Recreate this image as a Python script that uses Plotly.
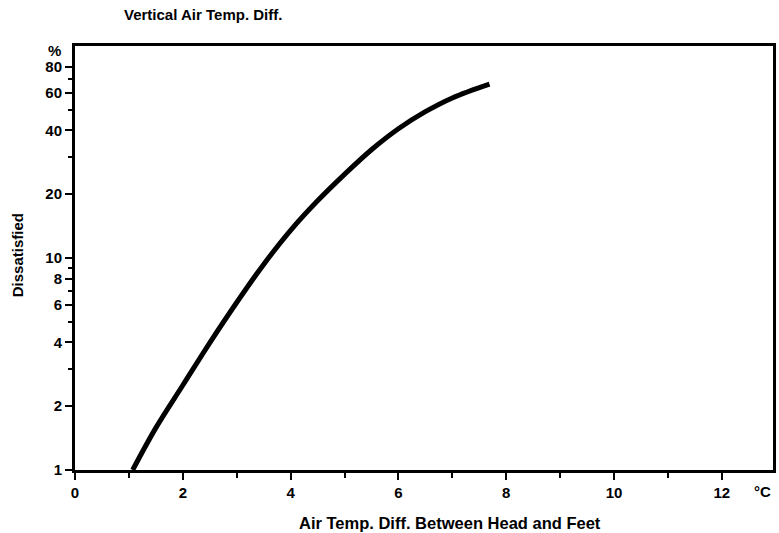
import plotly.graph_objects as go

# Temperature difference between head and feet (°C) vs. percentage dissatisfied
temp_diff = [1.07, 1.5, 2.0, 2.5, 3.0, 3.5, 4.0, 4.5, 5.0, 5.5, 6.0, 6.5, 7.0, 7.69]
dissatisfied = [1.0, 1.58, 2.51, 3.98, 6.17, 9.33, 13.5, 18.6, 24.8, 32.4, 40.7, 49.0, 56.9, 66.1]

x_ticks = [0, 2, 4, 6, 8, 10, 12]
y_ticks = [1, 2, 4, 6, 8, 10, 20, 40, 60, 80]
y_minor = [3, 5, 7, 9, 30, 50, 70]

FONT = "Liberation Sans, Arial, Helvetica, sans-serif"
TXT = dict(family=FONT, size=15, color="black", weight="bold")
XTITLE = dict(family=FONT, size=16.5, color="black", weight="bold")
TICK = dict(family=FONT, size=15, color="black", weight="bold")

fig = go.Figure()
fig.add_trace(go.Scatter(
    x=temp_diff, y=dissatisfied, mode="lines",
    line=dict(color="black", width=5, shape="spline", smoothing=1.0),
    hoverinfo="skip", showlegend=False,
))

fig.update_layout(
    width=779, height=533,
    margin=dict(l=75, r=3, t=46, b=63),
    paper_bgcolor="white", plot_bgcolor="white",
    font=TXT,
    xaxis=dict(
        range=[0, 12.95], tickmode="array", tickvals=x_ticks,
        ticktext=[str(v) for v in x_ticks], tickfont=TICK,
        ticks="outside", ticklen=7, tickwidth=2, tickcolor="black",
        minor=dict(tickmode="linear", tick0=1, dtick=1, ticks="outside",
                   ticklen=5, tickwidth=2, tickcolor="black"),
        showline=True, linewidth=3, linecolor="black", mirror=True,
        showgrid=False, zeroline=False, fixedrange=True,
    ),
    yaxis=dict(
        type="log", range=[0, 2.0], tickmode="array", tickvals=y_ticks,
        ticktext=[str(v) for v in y_ticks], tickfont=TICK,
        ticks="outside", ticklen=7, tickwidth=2, tickcolor="black",
        minor=dict(tickvals=y_minor, ticks="outside", ticklen=4,
                   tickwidth=2, tickcolor="black"),
        showline=True, linewidth=3, linecolor="black", mirror=True,
        showgrid=False, zeroline=False, fixedrange=True,
    ),
    annotations=[
        dict(text="Vertical Air Temp. Diff.", xref="paper", yref="paper",
             x=(122 - 75) / 701, y=1 + (46 - 14) / 424, xanchor="left", yanchor="middle",
             showarrow=False, font=TXT),
        dict(text="%", xref="paper", yref="paper",
             x=(63 - 75) / 701, y=1 + (46 - 50) / 424, xanchor="right", yanchor="middle",
             showarrow=False, font=TICK),
        dict(text="Dissatisfied", xref="paper", yref="paper",
             x=(17 - 75) / 701, y=(470 - 255) / 424, xanchor="center", yanchor="middle",
             textangle=-90, showarrow=False, font=TXT),
        dict(text="Air Temp. Diff. Between Head and Feet", xref="paper", yref="paper",
             x=(452 - 75) / 701, y=-(523 - 470) / 424, xanchor="center", yanchor="middle",
             showarrow=False, font=XTITLE),
        dict(text="°C", xref="paper", yref="paper",
             x=(765 - 75) / 701, y=-(491 - 470) / 424, xanchor="center", yanchor="middle",
             showarrow=False, font=TICK),
    ],
)

fig.write_html("out.html")
